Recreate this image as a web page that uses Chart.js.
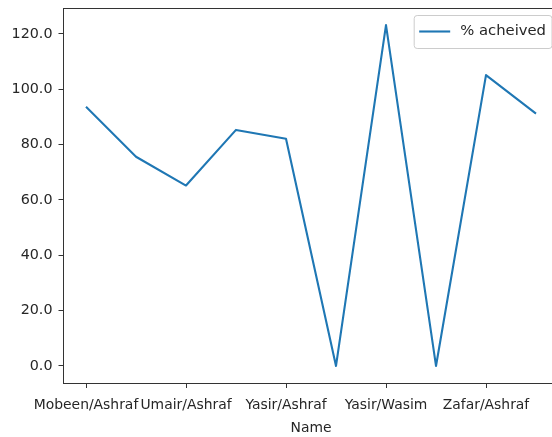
<!DOCTYPE html>
<html>
<head>
<meta charset="utf-8">
<script src="https://cdn.jsdelivr.net/npm/chart.js@4"></script>
<style>
  html, body { margin: 0; padding: 0; background: #fff; overflow: hidden; }
  #wrap { width: 570px; height: 437px; }
</style>
</head>
<body>
<div id="wrap"><canvas id="js-name-chart" width="570" height="437"></canvas></div>
<script>
// chart data
var seriesLabel = '% acheived';
var achieved = [93.7, 75.6, 65.2, 85.3, 82.1, 0, 123.2, 0, 105.1, 91.2];
var xTickPos = [0, 2, 4, 6, 8];
var xTickLabels = ['Mobeen/Ashraf', 'Umair/Ashraf', 'Yasir/Ashraf', 'Yasir/Wasim', 'Zafar/Ashraf'];
var yTicks = [0, 20, 40, 60, 80, 100, 120];

var FONT = "'DejaVu Sans', sans-serif";
var FS = 13.9;
var LINE = '#1f77b4';

// matplotlib style 5% margins
var n = achieved.length;
var yLo = Math.min.apply(null, achieved), yHi = Math.max.apply(null, achieved);
var yPad = (yHi - yLo) * 0.05;
var xPad = (n - 1) * 0.05;

// top/right spines + legend box
var frame = {
  id: 'frame',
  afterDraw: function(chart) {
    var ctx = chart.ctx, a = chart.chartArea;
    ctx.save();
    ctx.strokeStyle = '#333';
    ctx.lineWidth = 1;
    ctx.beginPath();
    ctx.moveTo(a.left, a.top + 0.5);
    ctx.lineTo(a.right, a.top + 0.5);
    ctx.lineTo(a.right, a.bottom);
    ctx.stroke();

    // legend
    var ds = chart.data.datasets[0];
    ctx.font = '14.8px ' + FONT;
    var tw = ctx.measureText(ds.label).width;
    var pad = 5.5, hl = 31, gap = 10;
    var right = a.right - 7, top = a.top + 7;
    var w = pad + hl + gap + tw + pad, h = 33;
    var left = right - w;
    ctx.beginPath();
    ctx.roundRect(left + 0.5, top + 0.5, w, h, 3);
    ctx.fillStyle = 'rgba(255,255,255,0.8)';
    ctx.fill();
    ctx.strokeStyle = '#cccccc';
    ctx.stroke();
    var cy = top + h / 2;
    ctx.beginPath();
    ctx.strokeStyle = ds.borderColor;
    ctx.lineWidth = ds.borderWidth;
    ctx.moveTo(left + pad, cy);
    ctx.lineTo(left + pad + hl, cy);
    ctx.stroke();
    ctx.fillStyle = '#262626';
    ctx.textBaseline = 'middle';
    ctx.fillText(ds.label, left + pad + hl + gap, cy);
    ctx.restore();
  }
};

var ctx = document.getElementById('js-name-chart').getContext('2d');
new Chart(ctx, {
  type: 'line',
  data: {
    datasets: [{
      label: seriesLabel,
      data: achieved.map(function(v, i) { return {x: i, y: v}; }),
      borderColor: LINE,
      backgroundColor: LINE,
      borderWidth: 2.1,
      borderJoinStyle: 'round',
      pointRadius: 0,
      tension: 0
    }]
  },
  options: {
    responsive: false,
    animation: false,
    devicePixelRatio: 1,
    layout: { padding: { left: 0, top: 8, right: 11.5, bottom: 0 } },
    plugins: {
      legend: { display: false },
      tooltip: { enabled: false }
    },
    scales: {
      x: {
        type: 'linear',
        min: -xPad,
        max: n - 1 + xPad,
        afterBuildTicks: function(scale) {
          scale.ticks = xTickPos.map(function(v) { return {value: v}; });
        },
        afterFit: function(scale) {
          scale.height = 54;
          scale.paddingLeft = 0;
          scale.paddingRight = 0;
        },
        grid: { drawOnChartArea: false, drawTicks: true, tickLength: 5, color: '#333' },
        border: { display: true, color: '#333', width: 1 },
        ticks: {
          autoSkip: false,
          maxRotation: 0,
          minRotation: 0,
          padding: 9,
          color: '#262626',
          font: { family: FONT, size: FS },
          callback: function(val) {
            var k = xTickPos.indexOf(val);
            return k >= 0 ? xTickLabels[k] : '';
          }
        },
        title: {
          display: true,
          text: 'Name',
          color: '#262626',
          font: { family: FONT, size: FS },
          padding: { top: 0, bottom: 0 }
        }
      },
      y: {
        min: yLo - yPad,
        max: yHi + yPad,
        afterBuildTicks: function(scale) {
          scale.ticks = yTicks.map(function(v) { return {value: v}; });
        },
        afterFit: function(scale) {
          scale.width = 63.5;
          scale.paddingTop = 0;
          scale.paddingBottom = 0;
        },
        grid: { drawOnChartArea: false, drawTicks: true, tickLength: 5, color: '#333' },
        border: { display: true, color: '#333', width: 1 },
        ticks: {
          padding: 6,
          color: '#262626',
          font: { family: FONT, size: 14.3 },
          callback: function(val) { return val.toFixed(1); }
        }
      }
    }
  },
  plugins: [frame]
});
</script>
</body>
</html>
